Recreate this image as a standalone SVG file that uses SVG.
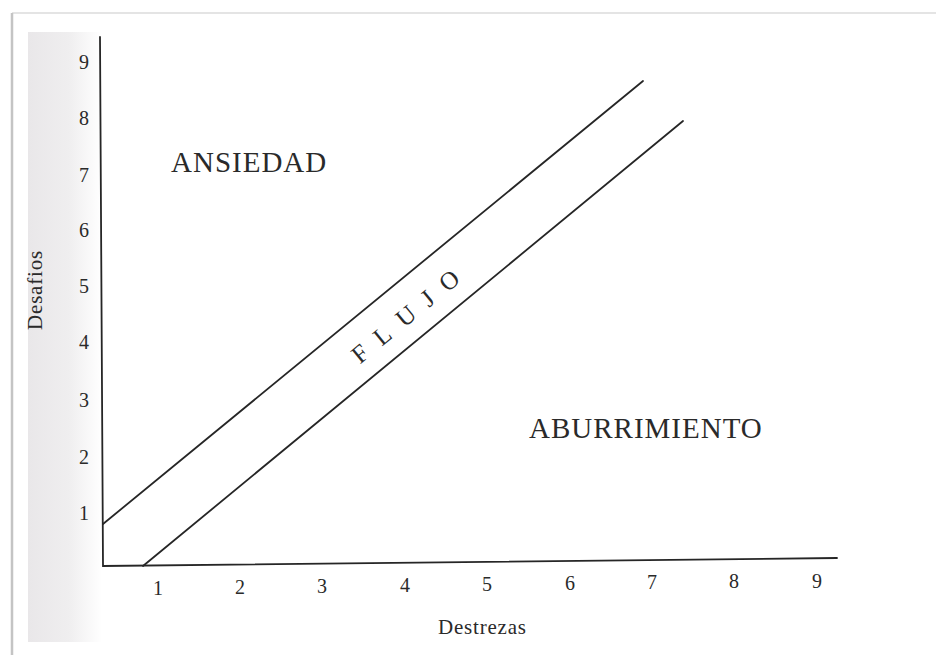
<svg xmlns="http://www.w3.org/2000/svg" width="936" height="655" viewBox="0 0 936 655">
  <defs>
    <linearGradient id="band" x1="0" y1="0" x2="1" y2="0">
      <stop offset="0" stop-color="#e9e7e9"/>
      <stop offset="0.55" stop-color="#efeeef"/>
      <stop offset="1" stop-color="#ffffff"/>
    </linearGradient>
    <style>
      .ln{stroke:#262626;stroke-width:1.8;fill:none;stroke-linecap:round}
      .t{font-family:"Liberation Serif","Times New Roman",serif;fill:#2a2a2a}
      .num{font-size:20px;text-anchor:middle}
      .big{font-size:29px}
      .ax{font-size:21px;letter-spacing:0.8px}
    </style>
  </defs>
  <rect x="0" y="0" width="936" height="655" fill="#ffffff"/>
  <g id="page">
    <line x1="12" y1="13" x2="936" y2="13" stroke="#e4e4e4" stroke-width="2"/>
    <line x1="12" y1="13" x2="12" y2="655" stroke="#c4c4c4" stroke-width="2.5"/>
    <rect x="28" y="32" width="74" height="610" fill="url(#band)"/>
  </g>
  <g id="axes">
    <polyline class="ln" points="100,37 103,566 837,558"/>
  </g>
  <g id="connectors">
    <line class="ln" x1="103" y1="524" x2="643" y2="81"/>
    <line class="ln" x1="143" y1="566" x2="683" y2="121"/>
  </g>
  <g id="y-ticks" class="t num">
    <text x="84" y="69">9</text>
    <text x="84" y="125">8</text>
    <text x="84" y="182">7</text>
    <text x="84" y="237">6</text>
    <text x="84" y="293">5</text>
    <text x="84" y="349">4</text>
    <text x="84" y="407">3</text>
    <text x="84" y="464">2</text>
    <text x="84" y="520">1</text>
  </g>
  <g id="x-ticks" class="t num">
    <text x="158" y="595">1</text>
    <text x="240" y="594">2</text>
    <text x="322" y="593">3</text>
    <text x="405" y="592">4</text>
    <text x="487" y="591">5</text>
    <text x="570" y="590">6</text>
    <text x="652" y="589">7</text>
    <text x="734" y="588">8</text>
    <text x="817" y="588">9</text>
  </g>
  <g id="ansiedad">
    <text class="t big" x="171" y="172" letter-spacing="1">ANSIEDAD</text>
  </g>
  <g id="aburrimiento">
    <text class="t big" x="529" y="438" letter-spacing="1">ABURRIMIENTO</text>
  </g>
  <g id="flujo">
    <text class="t" transform="translate(405,316) rotate(-39.4)" x="7" y="9" font-size="25" letter-spacing="14" text-anchor="middle">FLUJO</text>
  </g>
  <g id="desafios">
    <text class="t ax" transform="translate(42,290) rotate(-90)" x="0" y="0" text-anchor="middle">Desafios</text>
  </g>
  <g id="destrezas">
    <text class="t ax" x="438" y="634" font-size="22">Destrezas</text>
  </g>
</svg>
